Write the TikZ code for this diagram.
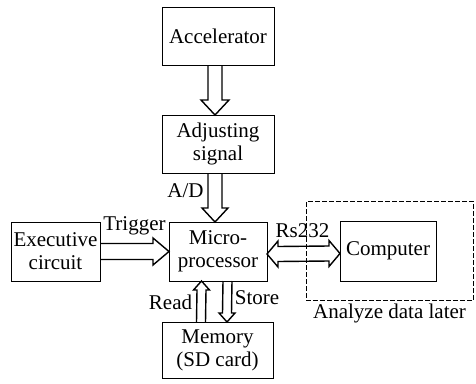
\documentclass[tikz,border=0pt]{standalone}
\usepackage{fontspec}
\setmainfont{Liberation Serif}
\usetikzlibrary{calc}

\begin{document}
\begin{tikzpicture}[x=1pt,y=-1pt,line width=1.4pt,
    font=\fontsize{21}{23}\selectfont,
    box/.style={draw,inner sep=0pt,align=center},
    blk/.style={draw,line join=miter}]
  \useasboundingbox (0,0) rectangle (476,383);

  \draw[line width=0pt]
    (218,36)    node[box,minimum width=112,minimum height=58] (acc) {Accelerator}
    (218,144)   node[box,minimum width=112,minimum height=58] (adj) {Adjusting\\signal}
    (218,251.5) node[box,minimum width=98,minimum height=59] (mcu) {Micro-\\processor}
    (217.5,350) node[box,minimum width=111,minimum height=56] (mem) {Memory\\(SD card)}
    (55.5,251.5) node[box,minimum width=89,minimum height=59] (exe) {Executive\\circuit}
    (388,251)   node[box,minimum width=96,minimum height=60] (pc) {Computer}
    (389.5,250.5) node[draw,dashed,dash pattern=on 4pt off 3pt,minimum width=167,minimum height=99] (grp) {};
  \node[below=0pt] (later) at (grp.south) {Analyze data later};

  \draw[blk] ($(acc.south)+(-10,0)$) -- ($(adj.north)+(-10,-15)$) -- ($(adj.north)+(-17,-15)$)
    -- ($(adj.north)+(-3,0)$) -- ($(adj.north)+(11,-15)$) -- ($(adj.north)+(4,-15)$) -- ($(acc.south)+(4,0)$);
  \draw[blk] ($(adj.south)+(-10,0)$) -- ($(mcu.north)+(-10,-14)$) -- ($(mcu.north)+(-16,-14)$)
    -- ($(mcu.north)+(-3,0)$) -- ($(mcu.north)+(10,-14)$) -- ($(mcu.north)+(4,-14)$) -- ($(adj.south)+(4,0)$);
  \node (ad) at (185.5,191) {A/D};

  \draw[blk] ($(exe.east)+(0,-8)$) -- ($(mcu.west)+(-16,-8)$) -- ($(mcu.west)+(-16,-13.5)$)
    -- (mcu.west) -- ($(mcu.west)+(-16,13.5)$) -- ($(mcu.west)+(-16,8)$) -- ($(exe.east)+(0,8)$);
  \node (trig) at (134.5,226) {Trigger};

  \draw[blk] ($(mcu.east)+(0,2.5)$) -- ($(mcu.east)+(11,-10.5)$) -- ($(mcu.east)+(11,-5)$)
    -- ($(pc.west)+(-11,-5)$) -- ($(pc.west)+(-11,-10.5)$) -- ($(pc.west)+(0,2.5)$)
    -- ($(pc.west)+(-11,15.5)$) -- ($(pc.west)+(-11,10)$) -- ($(mcu.east)+(11,10)$)
    -- ($(mcu.east)+(11,15.5)$) -- cycle;
  \node (rs) at (302.5,231) {Rs232};

  \draw[blk] ($(mem.north)+(-21,0)$) -- ($(mcu.south)+(-21,9)$) -- ($(mcu.south)+(-24.5,9)$)
    -- ($(mcu.south)+(-16.5,0)$) -- ($(mcu.south)+(-8.5,9)$) -- ($(mcu.south)+(-12,9)$) -- ($(mem.north)+(-12,0)$);
  \node (rd) at (170.5,302) {Read};

  \draw[blk] ($(mcu.south)+(5,0)$) -- ($(mem.north)+(5,-9)$) -- ($(mem.north)+(1.5,-9)$)
    -- ($(mem.north)+(9.5,0)$) -- ($(mem.north)+(17.5,-9)$) -- ($(mem.north)+(14,-9)$) -- ($(mcu.south)+(14,0)$);
  \node (st) at (257,298) {Store};
\end{tikzpicture}
\end{document}
